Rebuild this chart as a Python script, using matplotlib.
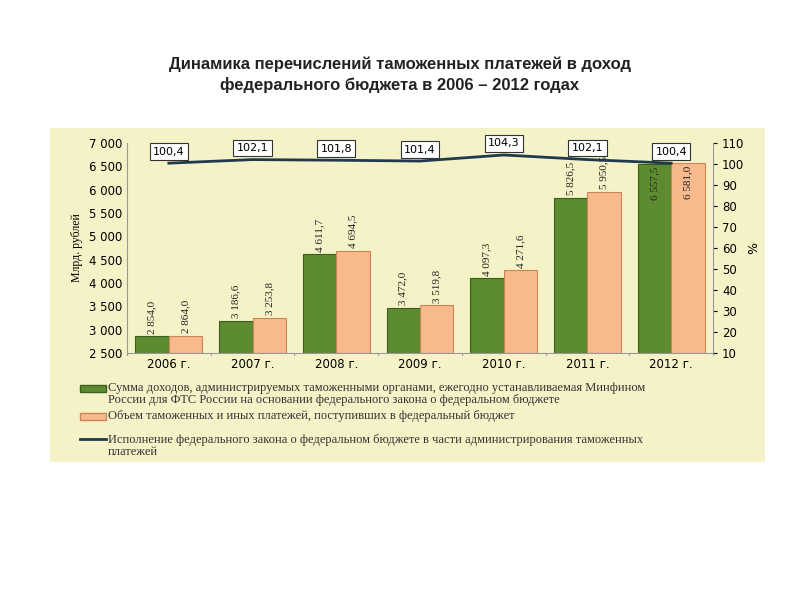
import matplotlib.pyplot as plt
import numpy as np
from matplotlib.patches import Rectangle

years = ["2006 г.", "2007 г.", "2008 г.", "2009 г.", "2010 г.", "2011 г.", "2012 г."]
planned = [2854.0, 3186.6, 4611.7, 3472.0, 4097.3, 5826.5, 6557.5]
actual = [2864.0, 3253.8, 4694.5, 3519.8, 4271.6, 5950.5, 6581.0]
execution = [100.4, 102.1, 101.8, 101.4, 104.3, 102.1, 100.4]


def fmt(v):
    return f"{v:,.1f}".replace(",", " ").replace(".", ",")


fig = plt.figure(figsize=(8, 6), dpi=100)
fig.patch.set_facecolor("white")

# pale panel behind the chart, as its own axes underneath everything
bg = fig.add_axes([50 / 800, 1 - 462 / 600, 715 / 800, 334 / 600], zorder=-10)
bg.set_facecolor("#f5f2c8")
bg.set_xticks([])
bg.set_yticks([])
for s in bg.spines.values():
    s.set_visible(False)

fig.text(0.5, 0.875, "Динамика перечислений таможенных платежей в доход\nфедерального бюджета в 2006 – 2012 годах",
         ha="center", va="center", fontsize=12, fontweight="bold", color="#222222",
         linespacing=1.4, family="Liberation Sans")

ax = fig.add_axes([127 / 800, 1 - 353 / 600, 586 / 800, 210 / 600])
ax.set_facecolor("none")
x = np.arange(len(years))
w = 0.4
ax.bar(x - w / 2, [p - 2500 for p in planned], w, bottom=2500, color="#5d8b2f",
       edgecolor="#3d5e1c", linewidth=0.8, zorder=2)
ax.bar(x + w / 2, [a - 2500 for a in actual], w, bottom=2500, color="#f8b98d",
       edgecolor="#c98757", linewidth=0.8, zorder=2)

for i in range(len(years)):
    for xi, v in ((x[i] - w / 2, planned[i]), (x[i] + w / 2, actual[i])):
        if v > 6400:
            ax.text(xi, v - 60, fmt(v), rotation=90, ha="center", va="top",
                    fontsize=8, family="Liberation Serif", color="#222222", zorder=4)
        else:
            ax.text(xi, v + 60, fmt(v), rotation=90, ha="center", va="bottom",
                    fontsize=8, family="Liberation Serif", color="#222222", zorder=4)

ticks = np.arange(2500, 7001, 500)
ax.set_ylim(2500, 7000)
ax.set_xlim(-0.5, len(years) - 0.5)
ax.set_yticks(ticks)
ax.set_yticklabels([f"{t // 1000} {t % 1000:03d}" for t in ticks])
ax.set_xticks(x)
ax.set_xticklabels(years)
ax.tick_params(labelsize=8.5, length=0)
ax.set_ylabel("Млрд. рублей", fontsize=8.5, family="Liberation Serif")
for s in ("top", "right"):
    ax.spines[s].set_visible(False)
ax.spines["left"].set_color("#999999")
ax.spines["bottom"].set_color("#999999")
for xb in np.arange(-0.5, len(years), 1):
    ax.plot([xb, xb], [2500, 2450], color="#999999", lw=0.8, clip_on=False)

ax2 = ax.twinx()
ax2.plot(x, execution, color="#1f3a4d", lw=2, zorder=5)
ax2.set_ylim(10, 110)
ax2.set_yticks(np.arange(10, 111, 10))
ax2.tick_params(labelsize=8.5, length=3)
ax2.set_ylabel("%", fontsize=9, rotation=90, labelpad=2)
for s in ("top", "left", "bottom"):
    ax2.spines[s].set_visible(False)
ax2.spines["right"].set_color("#999999")
for i, v in enumerate(execution):
    ax2.text(x[i], v + 5.5, f"{v:.1f}".replace(".", ","), ha="center", va="center",
             fontsize=8, zorder=6,
             bbox=dict(boxstyle="square,pad=0.3", facecolor="white", edgecolor="#333333", lw=0.8))

# legend
leg_font = dict(fontsize=9, family="Liberation Serif", color="#333333")
bg.add_patch(Rectangle((80 / 800, 1 - 392 / 600), 26 / 800, 7 / 600,
                       transform=fig.transFigure, facecolor="#5d8b2f", edgecolor="#3d5e1c"))
fig.text(108 / 800, 1 - 394 / 600, "Сумма доходов, администрируемых таможенными органами, ежегодно устанавливаемая Минфином\nРоссии для ФТС России на основании федерального закона о федеральном бюджете",
         va="center", linespacing=0.95, **leg_font)
bg.add_patch(Rectangle((80 / 800, 1 - 420 / 600), 26 / 800, 7 / 600,
                       transform=fig.transFigure, facecolor="#f8b98d", edgecolor="#c98757"))
fig.text(108 / 800, 1 - 416 / 600, "Объем таможенных и иных платежей, поступивших в федеральный бюджет",
         va="center", **leg_font)
bg.plot([80 / 800, 106 / 800], [1 - 439 / 600] * 2, transform=fig.transFigure,
        color="#1f3a4d", lw=2)
fig.text(108 / 800, 1 - 446 / 600, "Исполнение федерального закона о федеральном бюджете в части администрирования таможенных\nплатежей",
         va="center", linespacing=1.05, **leg_font)

fig.savefig("out.png", dpi=100)
